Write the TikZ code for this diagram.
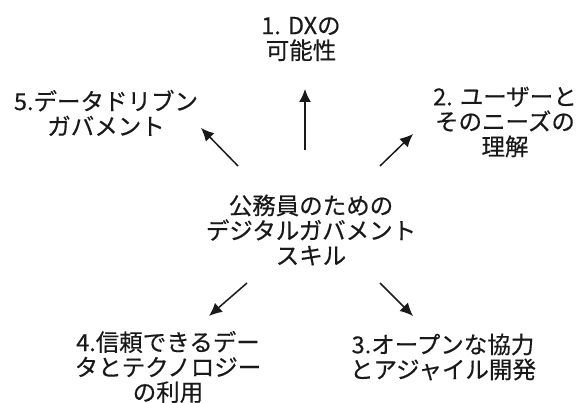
\documentclass[tikz,border=0pt]{standalone}
\usepackage{fontspec}
\newfontfamily\jpfont[FakeBold=0.4]{Noto Sans CJK JP}
\usetikzlibrary{arrows.meta}
\begin{document}
\begin{tikzpicture}[x=1pt,y=-1pt,
  lbl/.style={align=center,inner sep=0pt,font=\jpfont\fontsize{23.5}{25}\selectfont,text=black!90},
  arr/.style={-{Latex[length=13pt,width=12pt]},line width=1.5pt,black!90}]
\useasboundingbox (0,0) rectangle (581,403);
\node[lbl] (c) at (311,230) {公務員のための\\デジタルガバメント\\スキル};
\node[lbl] (n1) at (301,39) {1. DXの\\可能性};
\node[lbl] (n2) at (505,122) {2. ユーザーと\\そのニーズの\\理解};
\node[lbl] (n3) at (443,357) {3.オープンな協力\\とアジャイル開発};
\node[lbl] (n4) at (168,367) {4.信頼できるデー\\タとテクノロジー\\の利用};
\node[lbl] (n5) at (106,113) {5.データドリブン\\ガバメント};
\coordinate (a1s) at (305,150); \coordinate (a1e) at (305,89);
\coordinate (a2s) at (380,166); \coordinate (a2e) at (413,134);
\coordinate (a3s) at (380,283); \coordinate (a3e) at (413,316);
\coordinate (a4s) at (247,283); \coordinate (a4e) at (209,316);
\coordinate (a5s) at (238,166); \coordinate (a5e) at (201,128);
\draw[arr] (a1s) -- (a1e);
\draw[arr] (a2s) -- (a2e);
\draw[arr] (a3s) -- (a3e);
\draw[arr] (a4s) -- (a4e);
\draw[arr] (a5s) -- (a5e);
\end{tikzpicture}
\end{document}
